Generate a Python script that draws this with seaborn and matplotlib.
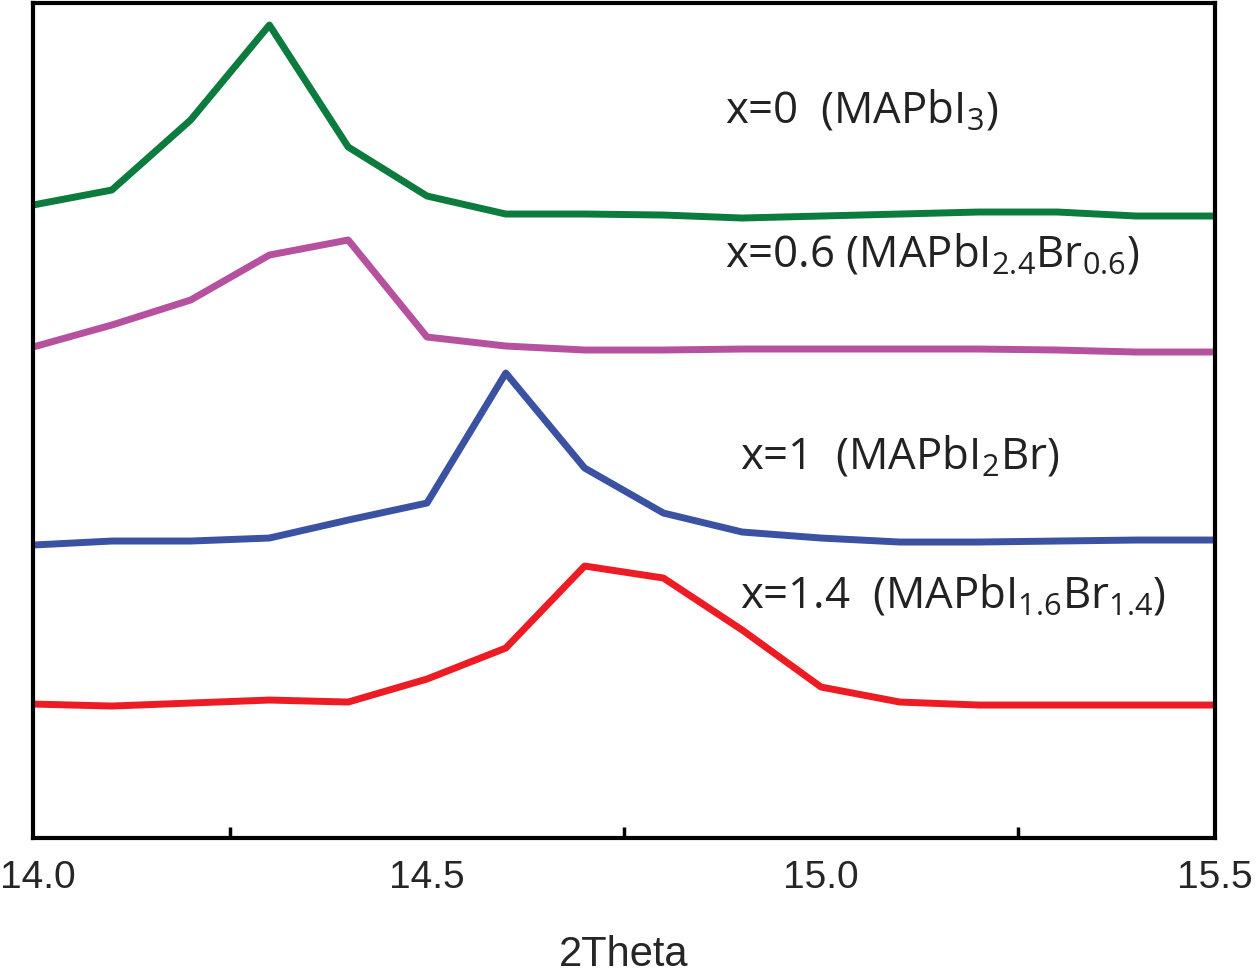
import numpy as np
import pandas as pd
import matplotlib
matplotlib.use("Agg")
import matplotlib.pyplot as plt
import matplotlib.transforms as mtransforms
import seaborn as sns

# 2Theta grid (deg) and intensities (a.u.)
two_theta = [14.0, 14.1, 14.2, 14.3, 14.4, 14.5, 14.6, 14.7,
             14.8, 14.9, 15.0, 15.1, 15.2, 15.3, 15.4, 15.5]

i_x0 = [633, 648, 718, 813, 691, 642, 624, 624, 623, 620, 622, 624, 626, 626, 622, 622]
i_x06 = [491, 513, 538, 583, 598, 501, 492, 488, 488, 489, 489, 489, 489, 488, 486, 486]
i_x1 = [293, 297, 297, 300, 318, 335, 465, 370, 325, 306, 300, 296, 296, 297, 298, 298]
i_x14 = [134, 132, 135, 138, 136, 159, 190, 272, 260, 208, 151, 136, 133, 133, 133, 133]

series = ["x=0", "x=0.6", "x=1", "x=1.4"]
labels = [r"x=0  (MAPbI$_{3}$)",
          r"x=0.6 (MAPbI$_{2.4}$Br$_{0.6}$)",
          r"x=1  (MAPbI$_{2}$Br)",
          r"x=1.4  (MAPbI$_{1.6}$Br$_{1.4}$)"]
label_x = [14.878, 14.878, 14.897, 14.897]
label_y = [716, 572, 370, 231]
colors = ["#0b7b3e", "#b6519f", "#3b52a3", "#ed1c24"]

df = pd.concat([
    pd.DataFrame({"2Theta": two_theta, "Intensity": vals, "sample": name})
    for name, vals in zip(series, [i_x0, i_x06, i_x1, i_x14])
])

sns.set_style("white")
plt.rcParams["font.family"] = ["Open Sans", "DejaVu Sans"]
plt.rcParams["mathtext.fontset"] = "custom"
plt.rcParams["mathtext.rm"] = "Open Sans"
plt.rcParams["mathtext.it"] = "Open Sans"
plt.rcParams["mathtext.bf"] = "Open Sans"

fig = plt.figure(figsize=(12.6, 9.73), dpi=100)
ax = fig.add_axes([0.0262, 0.1387, 0.9381, 0.8582])

sns.lineplot(data=df, x="2Theta", y="Intensity", hue="sample",
             palette=dict(zip(series, colors)), linewidth=5,
             legend=False, ax=ax)

for txt, x, y in zip(labels, label_x, label_y):
    ax.text(x, y, txt, fontsize=31.5, color="#222222", va="baseline", ha="left")

ax.set_xlim(14.0, 15.5)
ax.set_ylim(0, 835)
ax.set_yticks([])
ax.set_ylabel("")

tick_font = ["Liberation Sans", "DejaVu Sans"]
ax.set_xticks([14.0, 14.5, 15.0, 15.5])
ax.set_xticklabels(["14.0", "14.5", "15.0", "15.5"], family=tick_font, fontsize=28)
ax.set_xticks([14.25, 14.75, 15.25], minor=True)
ax.tick_params(axis="x", which="major", length=0, pad=16)
ax.tick_params(axis="x", which="minor", direction="in", length=8, width=2.5,
               color="black", bottom=True)
ax.set_xlabel("2Theta", family=tick_font, fontsize=30, labelpad=28)

# first label sits against the figure edge, nudge it in a little
first = ax.get_xticklabels()[0]
first.set_transform(first.get_transform() +
                    mtransforms.ScaledTranslation(0.05, 0, fig.dpi_scale_trans))

for side in ["left", "right", "top", "bottom"]:
    ax.spines[side].set_visible(True)
    ax.spines[side].set_color("black")
    ax.spines[side].set_linewidth(3)

fig.savefig("out.png", dpi=100)
